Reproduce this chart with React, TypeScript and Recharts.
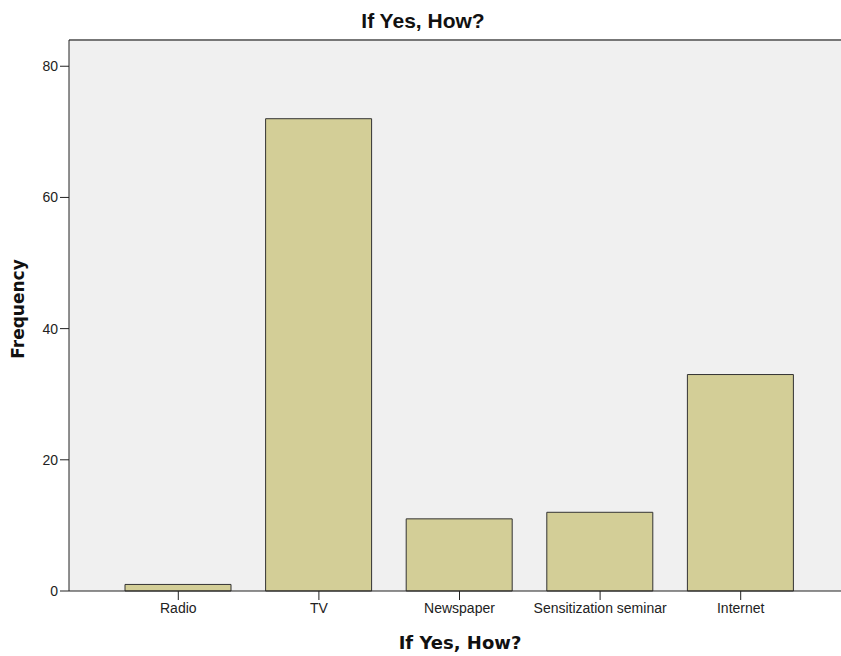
import { Bar, BarChart, CartesianGrid, Label, ReferenceLine, XAxis, YAxis } from "recharts";

const categories = ["Radio", "TV", "Newspaper", "Sensitization seminar", "Internet"];
const frequencies = [1, 72, 11, 12, 33];
const yTicks = [0, 20, 40, 60, 80];

const data = categories.map((name, i) => ({ name, frequency: frequencies[i] }));

const BAR_FILL = "#D3CE97";
const PLOT_BG = "#F0F0F0";
const SANS = "'Liberation Sans', Arial, sans-serif";
const BOLD_LABEL = "'DejaVu Sans', sans-serif";

export default function App() {
  return (
    <div style={{ position: "absolute", left: 0, top: 0, width: 841, height: 656, background: "#fff" }}>
      <BarChart
        width={841}
        height={656}
        data={data}
        margin={{ top: 40, right: 0, left: 0, bottom: 0 }}
        barSize={106}
      >
        <CartesianGrid fill={PLOT_BG} horizontal={false} vertical={false} />
        <ReferenceLine y={84} stroke="#777" strokeWidth={2} />
        <XAxis
          dataKey="name"
          height={65}
          padding={{ left: 39, right: 30 }}
          tickLine={{ stroke: "#222" }}
          axisLine={{ stroke: "#222" }}
          tickSize={9}
          tickMargin={3}
          tick={{ fill: "#222", fontSize: 14, fontFamily: SANS }}
        >
          <Label
            value="If Yes, How?"
            position="insideBottom"
            offset={7}
            dx={5}
            style={{ fill: "#111", fontSize: 18, fontWeight: "bold", fontFamily: BOLD_LABEL }}
          />
        </XAxis>
        <YAxis
          width={69}
          domain={[0, 84]}
          ticks={yTicks}
          tickLine={{ stroke: "#222" }}
          axisLine={{ stroke: "#222" }}
          tickSize={9}
          tickMargin={2}
          tick={{ fill: "#222", fontSize: 14, fontFamily: SANS }}
        />
        <Bar dataKey="frequency" fill={BAR_FILL} stroke="#333" strokeWidth={1} isAnimationActive={false} />
      </BarChart>
      <svg width={841} height={656} style={{ position: "absolute", left: 0, top: 0, pointerEvents: "none" }}>
        <text
          x={423}
          y={28}
          textAnchor="middle"
          fill="#111"
          fontSize={21}
          fontWeight="bold"
          fontFamily={SANS}
        >
          If Yes, How?
        </text>
        <text
          x={24}
          y={309}
          textAnchor="middle"
          transform="rotate(-90 24 309)"
          fill="#111"
          fontSize={17}
          fontWeight="bold"
          fontFamily={BOLD_LABEL}
        >
          Frequency
        </text>
      </svg>
    </div>
  );
}
